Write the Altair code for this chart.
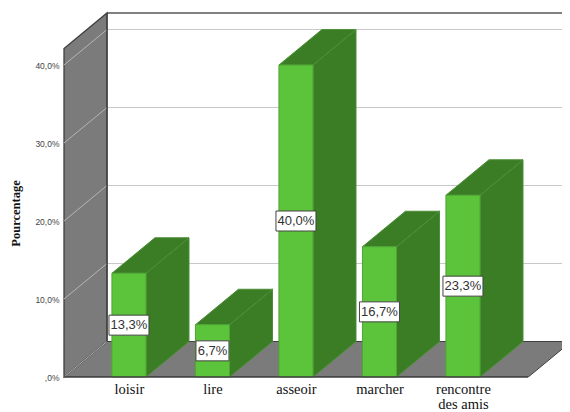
import altair as alt
import pandas as pd

categories = ["loisir", "lire", "asseoir", "marcher", "rencontre des amis"]
values = [13.3, 6.7, 40.0, 16.7, 23.3]
labels = ["13,3%", "6,7%", "40,0%", "16,7%", "23,3%"]
grid_values = [0, 10, 20, 30, 40]

# Depth of the pseudo-3D projection, in scale units
DX, DY = 0.515, 4.55
HALF = 0.204
XMIN, XMAX = -0.778, 5.186
FLOOR_RIGHT = 5.297
YMAX = 46.67

x_scale = alt.Scale(domain=[XMIN, XMAX], nice=False, zero=False)
y_scale = alt.Scale(domain=[0, YMAX], nice=False, zero=False)

cats_expr = "[" + ",".join(
    "['rencontre','des amis']" if c == "rencontre des amis" else f"'{c}'" for c in categories
) + "][datum.value]"

x_axis = alt.Axis(
    values=list(range(len(categories))), labelExpr=cats_expr, domain=False, ticks=False, grid=False,
    labelFont="Liberation Serif", labelFontSize=14.5, labelColor="#111111", labelPadding=12,
    labelLineHeight=15, labelOverlap=False, labelBaseline="middle", labelFlush=False, labelAngle=0)
y_axis = alt.Axis(
    values=grid_values, domain=False, ticks=False, grid=False,
    labelExpr="datum.value == 0 ? ',0%' : replace(format(datum.value, '.1f'), '.', ',') + '%'",
    labelFont="Liberation Sans", labelFontSize=8.5, labelColor="#444444", labelPadding=5,
    titleFont="Liberation Serif", titleFontSize=12.5, titleFontWeight="bold", titleColor="#111111",
    titleX=-42, titleY=200)

X = alt.X("x:Q", scale=x_scale, title=None, axis=x_axis)
Y = alt.Y("y:Q", scale=y_scale, title="Pourcentage", axis=y_axis)

# Left wall
wall_df = pd.DataFrame({"x": [XMIN, XMIN + DX], "y": [0, DY], "y2": [YMAX - DY, YMAX]})
wall = alt.Chart(wall_df).mark_area(color="#7b7b7b", stroke="#404040", strokeWidth=1.3).encode(
    x=X, y=Y, y2="y2:Q")

# Floor
floor_df = pd.DataFrame({"y": [0, DY], "x": [XMIN, XMIN + DX], "x2": [FLOOR_RIGHT - DX, FLOOR_RIGHT]})
floor = alt.Chart(floor_df).mark_area(orient="horizontal", color="#7b7b7b", stroke="#404040", strokeWidth=1, clip=True).encode(
    y=Y, x=X, x2="x2:Q")

# Gridlines on back wall and on left wall
back_rows = [{"g": g, "x": XMIN + DX, "y": g + DY} for g in grid_values[1:]] + \
            [{"g": g, "x": XMAX, "y": g + DY} for g in grid_values[1:]]
back_grid = alt.Chart(pd.DataFrame(back_rows)).mark_line(color="#c8c8c8", strokeWidth=1).encode(
    x=X, y=Y, detail="g:N")
left_rows = [{"g": g, "x": XMIN, "y": g} for g in grid_values] + \
            [{"g": g, "x": XMIN + DX, "y": g + DY} for g in grid_values]
left_grid = alt.Chart(pd.DataFrame(left_rows)).mark_line(color="#b5b5b5", strokeWidth=1).encode(
    x=X, y=Y, detail="g:N")
top_edge = alt.Chart(pd.DataFrame({"x": [XMIN + DX, XMAX], "y": [YMAX, YMAX]})).mark_line(
    color="#808080", strokeWidth=2).encode(x=X, y=Y)
wall_edge = alt.Chart(pd.DataFrame({"x": [XMIN + DX, XMIN + DX], "y": [DY, YMAX]})).mark_line(
    color="#404040", strokeWidth=1.3).encode(x=X, y=Y)

# Bars: side faces, top faces, front faces
side_rows, top_rows, front_rows = [], [], []
for i, v in enumerate(values):
    side_rows += [{"b": i, "x": i + HALF, "y": 0, "y2": v},
                  {"b": i, "x": i + HALF + DX, "y": DY, "y2": v + DY}]
    top_rows += [{"b": i, "y": v, "x": i - HALF, "x2": i + HALF},
                 {"b": i, "y": v + DY, "x": i - HALF + DX, "x2": i + HALF + DX}]
    front_rows.append({"x": i - HALF, "x2": i + HALF, "y": 0, "y2": v})

DARK, LIGHT = "#3b7d25", "#5cc43a"
side = alt.Chart(pd.DataFrame(side_rows)).mark_area(color=DARK, stroke="#4c8f38", strokeWidth=1).encode(
    x=X, y=Y, y2="y2:Q", detail="b:N")
top = alt.Chart(pd.DataFrame(top_rows)).mark_area(orient="horizontal", color=DARK, stroke="#4c8f38", strokeWidth=1).encode(
    y=Y, x=X, x2="x2:Q", detail="b:N")
front = alt.Chart(pd.DataFrame(front_rows)).mark_rect(color=LIGHT, stroke="#4fa535", strokeWidth=1).encode(
    x=X, x2="x2:Q", y=Y, y2="y2:Q")
base_line = alt.Chart(pd.DataFrame({"x": [XMIN, FLOOR_RIGHT - DX], "y": [0, 0]})).mark_line(
    color="#404040", strokeWidth=1.3).encode(x=X, y=Y)

# Data labels
lab_df = pd.DataFrame({"x": range(len(values)), "v": values, "label": labels})
lab_df["y"] = lab_df["v"] / 2
lab_base = alt.Chart(lab_df).encode(x=X, y=Y)
box_wide = lab_base.transform_filter("length(datum.label) == 5").mark_rect(
    width=40, height=20, fill="white", stroke="#444444", strokeWidth=1)
box_narrow = lab_base.transform_filter("length(datum.label) == 4").mark_rect(
    width=33, height=20, fill="white", stroke="#444444", strokeWidth=1)
lab_text = lab_base.mark_text(font="Liberation Sans", fontSize=13, color="#333333").encode(text="label:N")

chart = alt.layer(
    back_grid, top_edge, floor, wall, left_grid, wall_edge,
    side, top, front, base_line, box_wide, box_narrow, lab_text,
).properties(
    width=498, height=364, background="white",
    padding={"left": 56, "top": 5, "right": 0, "bottom": 35},
    autosize=alt.AutoSizeParams(type="none"),
).configure_view(stroke=None)

chart.save("out.html", embed_options={"renderer": "svg", "actions": False})
